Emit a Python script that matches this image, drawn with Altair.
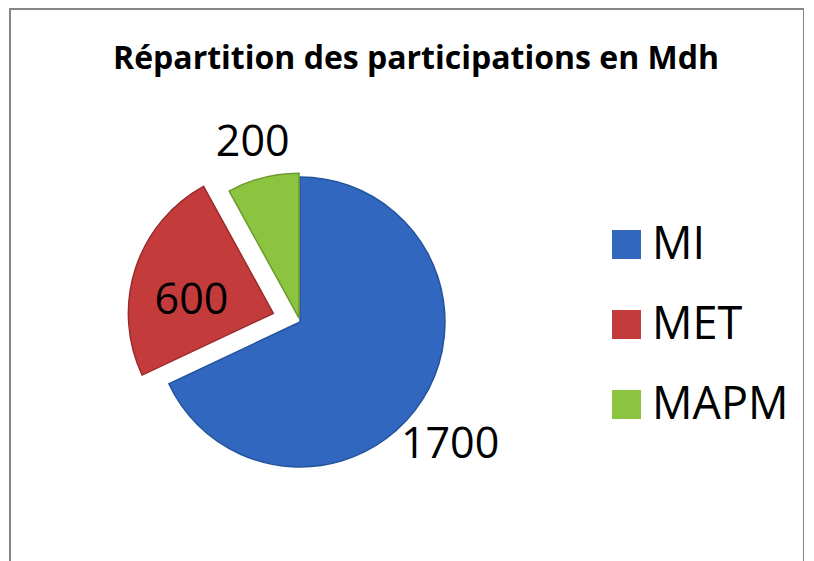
import math
import altair as alt
import pandas as pd

title_text = "Répartition des participations en Mdh"
categories = ["MI", "MET", "MAPM"]
values = [1700, 600, 200]
colors = ["#3167BE", "#C43B3B", "#8CC43F"]
edge_colors = ["#24539E", "#9A2B2B", "#6C9A2E"]
explode = [0, 28, 4]          # slice explosion (px)
label_radius = [192, 112, 186]
label_shift = [(-12, 20), (-2, 14), (-1, 1)]

FONT = "Open Sans"
total = sum(values)
df = pd.DataFrame({"cat": categories, "value": values, "order": list(range(len(categories)))})

base = alt.Chart(df).transform_window(
    end="sum(value)", sort=[alt.SortField("order")], frame=[None, 0]
).transform_calculate(
    start="datum.end - datum.value",
    mid="datum.end - datum.value / 2",
)

theta_scale = alt.Scale(domain=[0, total], range=[0, 2 * math.pi])
color_scale = alt.Scale(domain=categories, range=colors)
legend = alt.Legend(
    title=None, orient="none", legendX=594, legendY=213,
    symbolType="square", symbolSize=841, symbolStrokeWidth=0,
    labelFont=FONT, labelFontSize=45, labelColor="black",
    labelOffset=3, rowPadding=34, padding=0,
)

cx, cy, R = 290, 313, 145

layers = []
cum = 0
for i, c in enumerate(categories):
    mid_val = cum + values[i] / 2
    cum += values[i]
    ang = mid_val / total * 2 * math.pi
    ox = explode[i] * math.sin(ang)
    oy = -explode[i] * math.cos(ang)
    arc = base.transform_filter(alt.datum.cat == c).mark_arc(
        radius=R, xOffset=ox, yOffset=oy, stroke=edge_colors[i], strokeWidth=1.5
    ).encode(
        theta=alt.Theta("start:Q", scale=theta_scale),
        theta2="end:Q",
        color=alt.Color("cat:N", scale=color_scale, legend=legend),
        x=alt.value(cx), y=alt.value(cy),
    )
    layers.append(arc)

for i, c in enumerate(categories):
    txt = base.transform_filter(alt.datum.cat == c).mark_text(
        radius=label_radius[i], font=FONT, fontSize=43, color="black",
        dx=label_shift[i][0], dy=label_shift[i][1],
    ).encode(
        theta=alt.Theta("mid:Q", scale=theta_scale),
        text=alt.Text("value:Q"),
        x=alt.value(cx), y=alt.value(cy),
    )
    layers.append(txt)

title = alt.Chart(pd.DataFrame({"t": [title_text]})).mark_text(
    font=FONT, fontSize=32, fontWeight="bold", color="black"
).encode(text="t:N", x=alt.value(406), y=alt.value(50))
layers.append(title)

chart = alt.layer(*layers).properties(
    width=794, height=560,
    padding={"left": 2, "top": 1, "right": 0, "bottom": 0},
    autosize="none",
).configure_view(stroke="#868686", strokeWidth=2)

chart.save("out.html", embed_options={"renderer": "svg", "actions": False})
